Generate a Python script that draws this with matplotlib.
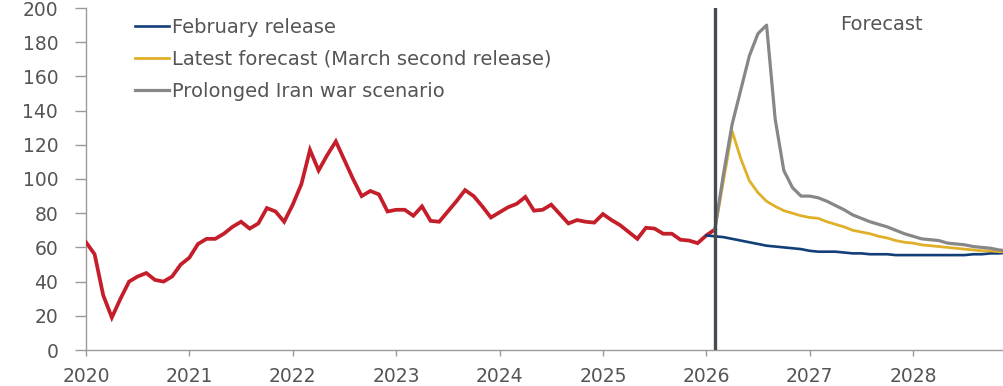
import matplotlib
matplotlib.use("Agg")
import matplotlib.pyplot as plt
import numpy as np

plt.rcParams["font.family"] = ["DejaVu Sans"]

# monthly history, Jan 2020 .. Feb 2026
history = [
    63, 56, 32, 19, 30, 40, 43, 45, 41, 40, 43, 50,            # 2020
    54, 62, 65, 65, 68, 72, 75, 71, 74, 83, 81, 75,            # 2021
    85, 97, 117, 105, 114, 122, 111, 100, 90, 93, 91, 81,      # 2022
    82, 82, 78.5, 84, 75.5, 75, 81, 87, 93.5, 90, 84, 77.5,    # 2023
    80.5, 83.5, 85.5, 89.5, 81.5, 82, 85, 79.5, 74, 76, 75, 74.5,  # 2024
    79.5, 76, 73, 69, 65, 71.5, 71, 68, 68, 64.5, 64, 62.5,    # 2025
    67, 70.5,                                                  # 2026
]

# February release, Jan 2026 .. Dec 2028
feb_release = [
    67, 66.5, 66, 65, 64, 63, 62, 61, 60.5, 60, 59.5, 59,
    58, 57.5, 57.5, 57.5, 57, 56.5, 56.5, 56, 56, 56, 55.5, 55.5,
    55.5, 55.5, 55.5, 55.5, 55.5, 55.5, 55.5, 56, 56, 56.5, 56.5, 57,
]

# latest forecast, Feb 2026 .. Dec 2028
latest = [
    70.5, 99, 128, 112, 99, 92, 87, 84, 81.5, 80, 78.5,
    77.5, 77, 75, 73.5, 72, 70, 69, 68, 66.5, 65.5, 64, 63,
    62.5, 61.5, 61, 60.5, 60, 59.5, 59, 58.5, 58, 58, 57.5, 57.5,
]

# prolonged Iran war scenario, Feb 2026 .. Dec 2028
war = [
    70.5, 103, 132, 152, 172, 185, 190, 135, 105, 95, 90,
    90, 89, 87, 84.5, 82, 79, 77, 75, 73.5, 72, 70, 68,
    66.5, 65, 64.5, 64, 62.5, 62, 61.5, 60.5, 60, 59.5, 58.5, 58,
]

years = list(range(2020, 2029))
forecast_start = 2026 + 1 / 12


def months_from(year, month, n):
    return year + (month - 1) / 12 + np.arange(n) / 12


fig = plt.figure(figsize=(10.04, 3.86), dpi=100)
ax = fig.add_axes([86 / 1004, 36 / 386, 918 / 1004, 342 / 386])

ax.plot(months_from(2020, 1, len(history)), history, color="#c41e2a", lw=2.7,
        solid_joinstyle="miter", zorder=3)
ax.plot(months_from(2026, 1, len(feb_release)), feb_release, color="#123f78", lw=1.9,
        label="February release", zorder=4)
ax.plot(months_from(2026, 2, len(latest)), latest, color="#e0b02a", lw=2.0,
        label="Latest forecast (March second release)", zorder=5)
ax.plot(months_from(2026, 2, len(war)), war, color="#878787", lw=2.3,
        label="Prolonged Iran war scenario", zorder=6)

ax.axvline(forecast_start, color="#464b52", lw=2.4, zorder=7)

ax.set_xlim(2020, 2028.88)
ax.set_ylim(0, 200)
ax.set_xticks(years)
ax.set_xticklabels([str(y) for y in years])
ax.set_yticks(np.arange(0, 201, 20))

for s in ["top", "right"]:
    ax.spines[s].set_visible(False)
for s in ["left", "bottom"]:
    ax.spines[s].set_color("#9a9a9a")
    ax.spines[s].set_linewidth(1.0)

ax.tick_params(axis="y", length=8, width=1, color="#9a9a9a", pad=12,
               labelsize=13.5, labelcolor="#555555")
ax.tick_params(axis="x", length=4.5, width=1, color="#9a9a9a", pad=8,
               labelsize=13.5, labelcolor="#555555")

ax.text(2027.69, 190.5, "Forecast", ha="center", va="center", fontsize=14,
        color="#555555")

ax.legend(loc="upper left", bbox_to_anchor=(135 / 1004, 1 - 18 / 386),
          bbox_transform=fig.transFigure, frameon=False, fontsize=14,
          handlelength=1.75, handletextpad=0.15, labelspacing=0.66,
          borderpad=0, borderaxespad=0, labelcolor="#555555")

fig.savefig("out.png", dpi=100, facecolor="white")
